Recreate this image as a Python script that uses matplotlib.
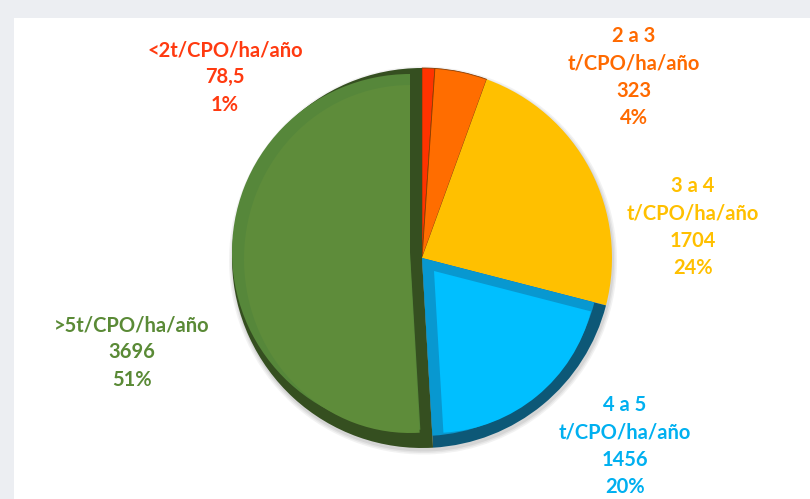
import matplotlib
matplotlib.use("Agg")
import matplotlib.pyplot as plt
from matplotlib.patches import Rectangle
from matplotlib.transforms import Affine2D

categories = ["<2t/CPO/ha/año", "2 a 3\nt/CPO/ha/año", "3 a 4\nt/CPO/ha/año",
              "4 a 5\nt/CPO/ha/año", ">5t/CPO/ha/año"]
values = [78.5, 323, 1704, 1456, 3696]
value_labels = ["78,5", "323", "1704", "1456", "3696"]
pct_labels = ["1%", "4%", "24%", "20%", "51%"]

face_colors = ["#ff3300", "#ff6d00", "#ffc000", "#00bfff", "#5e8c3a"]
text_colors = ["#ff3a10", "#ff6a00", "#ffc000", "#00b0f0", "#5a8a36"]

W, H = 810, 499
fig = plt.figure(figsize=(W / 100, H / 100), dpi=100)
fig.patch.set_facecolor("#eceef2")
ax = fig.add_axes([0, 0, 1, 1])
ax.set_facecolor("none")
ax.add_patch(Rectangle((14, 0), W, H - 18, facecolor="white", edgecolor="none", zorder=0))

C = (422, H - 258)
R = 190
common = dict(startangle=90, counterclock=False, frame=True)
flat = dict(linewidth=0)

# soft shadow under the pie
for k, a in [(4, 0.12), (2.5, 0.15), (1, 0.2)]:
    ax.pie(values, colors=["#9a9a9a"] * 5, radius=R + k, center=(C[0] + 1, C[1] - 2.5),
           **common, wedgeprops=dict(linewidth=0, alpha=a))

# base layer (flat slices + dark shadow of the 3D slices)
base_cols = ["#ff3300", "#ff6d00", "#ffc000", "#0d5877", "#354f20"]
wedges, _ = ax.pie(values, colors=base_cols, radius=R, center=C, **common, wedgeprops=flat)
for w in wedges[:2]:
    w.set_edgecolor("#8a3c00")
    w.set_linewidth(0.6)

# green bevel (light from upper left)
ax.pie(values, colors=["none"] * 4 + ["#56873a"], radius=R - 12, center=(C[0] - 12, C[1] + 6),
       **common, wedgeprops=flat)
gc = (C[0] - 12, C[1] - 1)
gw, _ = ax.pie(values, colors=["none"] * 4 + ["#5e8c3a"], radius=166, center=gc,
               **common, wedgeprops=flat)
gw[4].set_transform(Affine2D().translate(-gc[0], -gc[1]).scale(1, 174 / 166)
                    .translate(gc[0], gc[1]) + ax.transData)

# blue bevel
ax.pie(values, colors=["none"] * 3 + ["#0898d0", "none"], radius=R - 12, center=C,
       **common, wedgeprops=flat)
ax.pie(values, colors=["none"] * 3 + ["#00bfff", "none"], radius=R - 28, center=(C[0] + 12, C[1] - 13),
       **common, wedgeprops=flat)

ax.set_xlim(0, W)
ax.set_ylim(0, H)
ax.set_aspect("auto")
ax.axis("off")

label_pos = [(225, 50), (634, 36), (693, 186), (625, 405), (132, 325)]
for cat, v, p, col, (x, y) in zip(categories, value_labels, pct_labels, text_colors, label_pos):
    lines = cat.split("\n") + [v, p]
    for i, line in enumerate(lines):
        ax.text(x, H - (y + i * 27.3), line, color=col, ha="center", va="center",
                fontsize=14.5, fontweight="bold", family="Lato")

fig.savefig("out.png", dpi=100)
